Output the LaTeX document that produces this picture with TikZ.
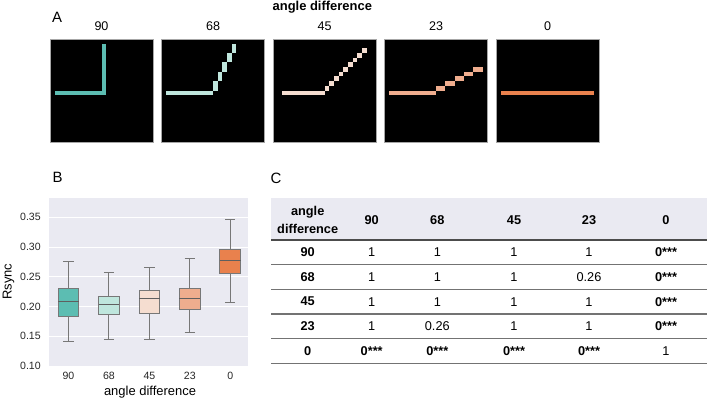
\documentclass[tikz,border=0pt]{standalone}
\usepackage{fontspec}
\setmainfont{Liberation Sans}
\definecolor{col90}{HTML}{5CBDB2}
\definecolor{col68}{HTML}{BFE6DD}
\definecolor{col45}{HTML}{F5DDD0}
\definecolor{col23}{HTML}{EFAD8E}
\definecolor{col0}{HTML}{E9814D}
\definecolor{axesbg}{HTML}{EAEAF2}
\definecolor{boxgray}{HTML}{777777}
\definecolor{headgray}{HTML}{EAEAF2}
\def\pixw{4.682bp}
\newcommand{\zerosig}{\textbf{0***}}
\tikzset{
  panellabel/.style={font=\fontsize{15}{18}\selectfont},
  numlabel/.style={font=\fontsize{12.6}{15}\selectfont},
  ticklabel/.style={font=\fontsize{10.6}{12}\selectfont, text=black!85},
  axislabel/.style={font=\fontsize{13}{15}\selectfont, anchor=base},
  sqedge/.style={draw=gray!70, line width=0.8bp},
  boxline/.style={draw=boxgray, line width=1bp},
  tabhead/.style={font=\fontsize{12.8}{17.5}\selectfont\bfseries},
  tabcell/.style={font=\fontsize{12.8}{15}\selectfont},
  headrule/.style={draw=black!70, line width=1.6bp},
  rowrule/.style={draw=black!55, line width=1.3bp}
}

\begin{document}
\begin{tikzpicture}[x=1bp, y=-1bp]
			%%%%% START %%%%%
			\useasboundingbox (0,0) rectangle (708,402);

			% panel A
			\node[panellabel] (labA) at (57,17.5) {A};
			\node[axislabel, font=\fontsize{13}{15}\selectfont\bfseries] (titleA) at (322.3,10.5) {angle difference};

			\foreach \i/\ang in {0/90, 1/68, 2/45, 3/23, 4/0} {
				\begin{scope}[shift={(50+111.5*\i,39)}, x=\pixw, y=-\pixw]
					\fill[black] (0,0) rectangle (22,22);
					\draw[sqedge] (0,0) rectangle (22,22);
				\end{scope}
				\node[numlabel] (num\ang) at (101.5+111.5*\i,26.2) {\ang};
			}

			\begin{scope}[shift={(50,39)}, x=\pixw, y=-\pixw]
				\fill[col90] (1,11) rectangle (11,12);
				\fill[col90] (11,1) rectangle (12,12);
			\end{scope}

			\begin{scope}[shift={(161.5,39)}, x=\pixw, y=-\pixw]
				\fill[col68] (1,11) rectangle (11,12);
				\foreach \k in {0,...,4}
					\fill[col68] (11+\k,9-2*\k) rectangle (12+\k,11-2*\k);
			\end{scope}

			\begin{scope}[shift={(273,39)}, x=\pixw, y=-\pixw]
				\fill[col45] (2,11) rectangle (11,12);
				\foreach \k in {0,...,8}
					\fill[col45] (11+\k,10-\k) rectangle (12+\k,11-\k);
			\end{scope}

			\begin{scope}[shift={(384.5,39)}, x=\pixw, y=-\pixw]
				\fill[col23] (1,11) rectangle (11,12);
				\foreach \k in {0,...,4}
					\fill[col23] (11+2*\k,10-\k) rectangle (13+2*\k,11-\k);
			\end{scope}

			\begin{scope}[shift={(496,39)}, x=\pixw, y=-\pixw]
				\fill[col0] (1,11) rectangle (21,12);
			\end{scope}

			% panel B
			\node[panellabel] (labB) at (57.7,177.2) {B};
			\node[axislabel, rotate=90] (ylab) at (11.6,281.7) {Rsync};
			\node[axislabel] (xlab) at (150,395.3) {angle difference};

			\begin{scope}[shift={(68.5,425.48)}, x=40.45bp, y=594.8bp]
				\fill[axesbg] (-0.482,0.10) rectangle (4.437,0.3825);
				\foreach \v in {0.10,0.15,0.20,0.25,0.30,0.35} {
					\draw[white, line width=1bp] (-0.482,\v) -- (4.437,\v);
					\node[ticklabel, anchor=east] (yt\v) at (-0.6,\v) {\v};
				}
				\foreach \p/\lab/\lo/\qa/\me/\qb/\hi/\col in {
						0/90/0.1409/0.1829/0.2081/0.2306/0.2753/col90,
						1/68/0.1449/0.1869/0.2042/0.2177/0.2575/col68,
						2/45/0.1449/0.1880/0.2138/0.2273/0.2659/col45,
						3/23/0.1560/0.1958/0.2138/0.2311/0.2804/col23,
						4/0/0.2071/0.2552/0.2782/0.2962/0.3455/col0} {
					\draw[boxline] (\p,\lo) -- (\p,\qa) (\p,\qb) -- (\p,\hi);
					\draw[boxline] (\p-0.128,\lo) -- (\p+0.128,\lo) (\p-0.128,\hi) -- (\p+0.128,\hi);
					\filldraw[boxline, fill=\col] (\p-0.256,\qa) rectangle (\p+0.256,\qb);
					\draw[boxline, draw=boxgray!80!black] (\p-0.256,\me) -- (\p+0.256,\me);
					\node[ticklabel] (xt\lab) at (\p,0.0837) {\lab};
				}
			\end{scope}

			% panel C
			\node[panellabel] (labC) at (276,178.7) {C};
			\fill[headgray] (271,198.3) rectangle (706.7,240);
			\node[tabhead, align=center] (hcorner) at (307.7,220) {angle\\difference};
			\foreach \x/\lab in {371.7/90, 437.3/68, 514/45, 589/23, 666/0}
				\node[tabhead] (h\lab) at (\x,220) {\lab};

			\draw[headrule] (271,240) -- (706.7,240);
			\foreach \k in {1,...,5}
				\draw[rowrule] (271,240+24.66*\k) -- (706.7,240+24.66*\k);

			\foreach \r/\va/\vb/\vc/\vd/\ve [count=\k from 0] in {
					90/1/1/1/1/\zerosig,
					68/1/1/1/0.26/\zerosig,
					45/1/1/1/1/\zerosig,
					23/1/0.26/1/1/\zerosig,
					0/\zerosig/\zerosig/\zerosig/\zerosig/1} {
				\node[tabhead] (r\r) at (307.7,252.3+24.66*\k) {\r};
				\foreach \val/\x [count=\j] in {\va/371.7, \vb/437.3, \vc/514, \vd/589, \ve/666}
					\node[tabcell] (cell\k\j) at (\x,252.3+24.66*\k) {\val};
			}

			%%%%% END %%%%%
		\end{tikzpicture}
\end{document}
